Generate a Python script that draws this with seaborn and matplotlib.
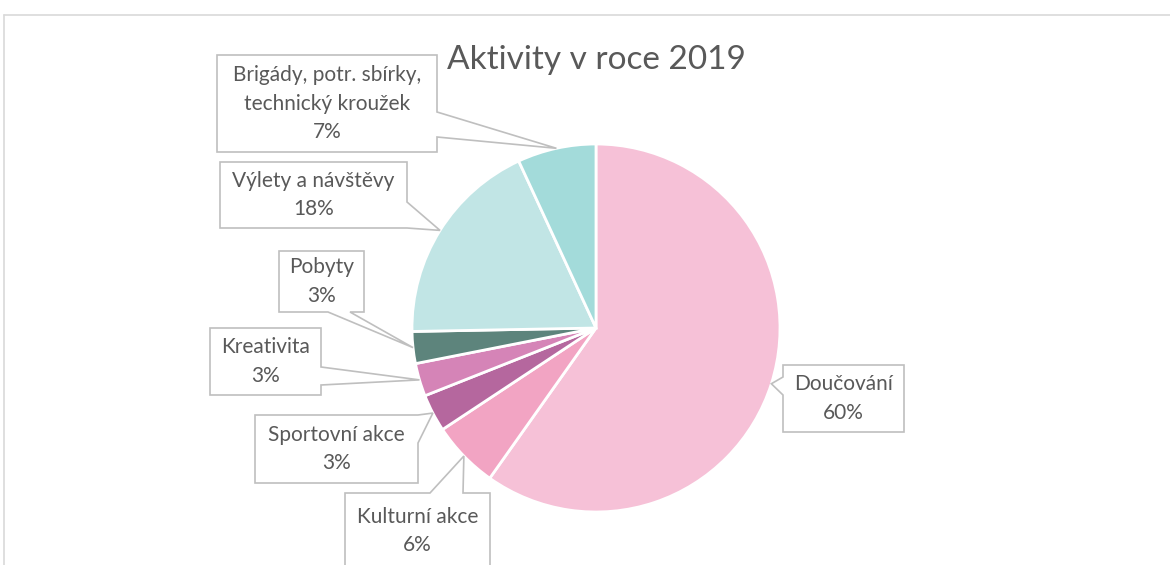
import numpy as np
import matplotlib
matplotlib.use("Agg")
import matplotlib.pyplot as plt
from matplotlib.patches import Polygon
import seaborn as sns

# data (share of activities, clockwise from the top)
categories = ["Doučování", "Kulturní akce", "Sportovní akce", "Kreativita",
              "Pobyty", "Výlety a návštěvy", "Brigády, potr. sbírky,\ntechnický kroužek"]
values = [59.8, 5.9, 3.3, 2.9, 2.8, 18.4, 6.9]
colors = ["#F6C1D7", "#F2A4C3", "#B5679E", "#D584B7", "#5D847C", "#C1E5E5", "#A3DBDA"]
title = "Aktivity v roce 2019"

# callout layout in pixels: box (x0, y0, x1, y1), side of the pointer, pointer base
callouts = [
    ((783, 365, 904, 432), "left", (377, 395)),
    ((345, 493, 490, 580), "top", (430, 463)),
    ((255, 415, 418, 483), "right", (415, 443)),
    ((210, 328, 321, 395), "right", (367, 385)),
    ((279, 251, 364, 312), "bottom", (328, 350)),
    ((220, 162, 407, 228), "right", (202, 228)),
    ((217, 55, 437, 152), "right", (112, 137)),
]

sns.set_theme(style="white")
plt.rcParams["font.family"] = ["Lato", "DejaVu Sans"]
text_color = "#595959"

W, H = 1170, 565
fig = plt.figure(figsize=(W / 100, H / 100), dpi=100)
ax = fig.add_axes([0, 0, 1, 1])

cx, cy, r = 596, 328, 184
# y axis is inverted, so start at -90 and go "counterclockwise" to look clockwise
wedges, _ = ax.pie(values, colors=colors, startangle=-90, counterclock=True,
                   center=(cx, cy), radius=r,
                   wedgeprops=dict(edgecolor="white", linewidth=2.0))
ax.set_xlim(0, W)
ax.set_ylim(H, 0)
ax.set_aspect("equal")
ax.axis("off")

# chart area frame (cropped at right/bottom)
ax.plot([3.5, W], [14.5, 14.5], color="#D9D9D9", lw=1.2, clip_on=False)
ax.plot([3.5, 3.5], [14.5, H], color="#D9D9D9", lw=1.2, clip_on=False)

ax.text(596, 60, title, ha="center", va="center", fontsize=24, color=text_color)

total = sum(values)
for w, name, val, (box, side, base) in zip(wedges, categories, values, callouts):
    mid = np.deg2rad((w.theta1 + w.theta2) / 2)
    tip = (cx + r * np.cos(mid), cy + r * np.sin(mid))
    x0, y0, x1, y1 = box
    b0, b1 = base
    if side == "right":
        pts = [(x0, y0), (x1, y0), (x1, b0), tip, (x1, b1), (x1, y1), (x0, y1)]
    elif side == "left":
        pts = [(x0, y0), (x1, y0), (x1, y1), (x0, y1), (x0, b1), tip, (x0, b0)]
    elif side == "top":
        pts = [(x0, y0), (b0, y0), tip, (b1, y0), (x1, y0), (x1, y1), (x0, y1)]
    else:
        pts = [(x0, y0), (x1, y0), (x1, y1), (b1, y1), tip, (b0, y1), (x0, y1)]
    ax.add_patch(Polygon(pts, closed=True, facecolor="white", edgecolor="#BFBFBF",
                         lw=1.2, zorder=3, clip_on=False))
    label = f"{name}\n{val / total * 100:.0f}%"
    ty = (y0 + y1) / 2 if side != "top" else (y0 + 565) / 2 + 2
    ax.text((x0 + x1) / 2, ty, label, ha="center", va="center", fontsize=15,
            color=text_color, linespacing=1.55, zorder=4)

fig.savefig("out.png", dpi=100, facecolor="white")
